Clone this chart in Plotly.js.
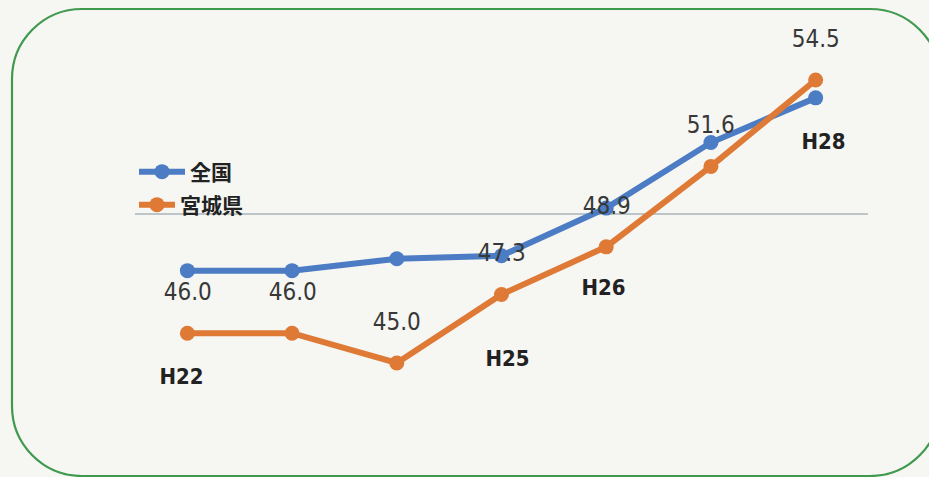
<!DOCTYPE html>
<html>
<head>
<meta charset="utf-8">
<script src="https://cdn.plot.ly/plotly-3.0.1.min.js"></script>
<style>
html,body{margin:0;padding:0;background:#f6f6f3;}
#chart{width:929px;height:477px;}
.annotation text{font-stretch:condensed !important;}
</style>
</head>
<body>
<div id="chart"></div>
<script>
// ---- data ----
const categories = ['H22', 'H23', 'H24', 'H25', 'H26', 'H27', 'H28'];
const zenkoku = [48.1, 48.1, 48.5, 48.6, 50.2, 52.4, 53.9];   // 全国 (read from positions)
const miyagi  = [46.0, 46.0, 45.0, 47.3, 48.9, 51.6, 54.5];   // 宮城県 (labelled values)
const seriesNames = ['全国', '宮城県'];
const shownYearLabels = ['H22', 'H25', 'H26', 'H28'];
const gridValues = [50];

// ---- layout constants ----
const W = 929, H = 477;
const M = {l: 135, r: 61, t: 20, b: 20};
const PW = W - M.l - M.r, PH = H - M.t - M.b;
const yRange = [41.845, 56.514];

const blue = '#4b7cc4';
const orange = '#de7a36';
const numFont = {family: '"DejaVu Sans", sans-serif', size: 24, color: '#383838'};
const yearFont = {family: '"DejaVu Sans", sans-serif', size: 22, color: '#222222', weight: 'bold'};
const legFont = {family: '"Noto Sans CJK JP", "Noto Sans", sans-serif', size: 21, color: '#222222', weight: 'bold'};

function pxX(x) { return (x - M.l) / PW; }
function pxY(y) { return (H - M.b - y) / PH; }

const traces = [
  {
    x: categories, y: zenkoku, name: seriesNames[0], type: 'scatter', mode: 'lines+markers',
    line: {color: blue, width: 6}, marker: {color: blue, size: 15},
    legend: 'legend', hoverinfo: 'skip'
  },
  {
    x: categories, y: miyagi, name: seriesNames[1], type: 'scatter', mode: 'lines+markers',
    line: {color: orange, width: 6}, marker: {color: orange, size: 15},
    legend: 'legend2', hoverinfo: 'skip'
  }
];

const annotations = [];
miyagi.forEach((v, i) => {
  annotations.push({
    x: categories[i], y: v, xref: 'x', yref: 'y', text: v.toFixed(1),
    showarrow: false, yshift: 41, xanchor: 'center', yanchor: 'middle', font: numFont
  });
});
const yearOffsets = {H22: [-6, -43], H25: [6, -64], H26: [-3, -41], H28: [8, -61]};
shownYearLabels.forEach(lbl => {
  const i = categories.indexOf(lbl);
  const off = yearOffsets[lbl];
  annotations.push({
    x: categories[i], y: miyagi[i], xref: 'x', yref: 'y', text: lbl,
    showarrow: false, xshift: off[0], yshift: off[1], xanchor: 'center', yanchor: 'middle', font: yearFont
  });
});

// rounded frame
function framePath(l, t, r, b, rad) {
  const k = rad * 0.5523;
  const P = (x, y) => pxX(x).toFixed(5) + ',' + pxY(y).toFixed(5);
  return 'M' + P(l + rad, t) +
    ' L' + P(r - rad, t) +
    ' C' + P(r - rad + k, t) + ' ' + P(r, t + rad - k) + ' ' + P(r, t + rad) +
    ' L' + P(r, b - rad) +
    ' C' + P(r, b - rad + k) + ' ' + P(r - rad + k, b) + ' ' + P(r - rad, b) +
    ' L' + P(l + rad, b) +
    ' C' + P(l + rad - k, b) + ' ' + P(l, b - rad + k) + ' ' + P(l, b - rad) +
    ' L' + P(l, t + rad) +
    ' C' + P(l, t + rad - k) + ' ' + P(l + rad - k, t) + ' ' + P(l + rad, t) + ' Z';
}

const layout = {
  width: W, height: H,
  margin: M,
  paper_bgcolor: '#f6f6f3',
  plot_bgcolor: 'rgba(0,0,0,0)',
  showlegend: true,
  xaxis: {
    type: 'category', range: [-0.5, categories.length - 0.5],
    showgrid: false, zeroline: false, showline: false, showticklabels: false, ticks: ''
  },
  yaxis: {
    range: yRange, tickvals: gridValues, showgrid: true, gridcolor: '#bcc6c8', gridwidth: 1.5,
    zeroline: false, showline: false, showticklabels: false, ticks: ''
  },
  legend: {
    x: pxX(134), y: pxY(172), xanchor: 'left', yanchor: 'middle',
    bgcolor: 'rgba(0,0,0,0)', borderwidth: 0, font: legFont, itemwidth: 46
  },
  legend2: {
    x: pxX(134), y: pxY(205), xanchor: 'left', yanchor: 'middle',
    bgcolor: 'rgba(0,0,0,0)', borderwidth: 0, font: legFont, itemwidth: 36
  },
  annotations: annotations,
  shapes: [{
    type: 'path', xref: 'paper', yref: 'paper', layer: 'above',
    path: framePath(12, 9, 940, 476, 70),
    line: {color: '#3f9a4d', width: 2.2}
  }]
};

Plotly.newPlot('chart', traces, layout, {staticPlot: true, displayModeBar: false});
</script>
</body>
</html>
